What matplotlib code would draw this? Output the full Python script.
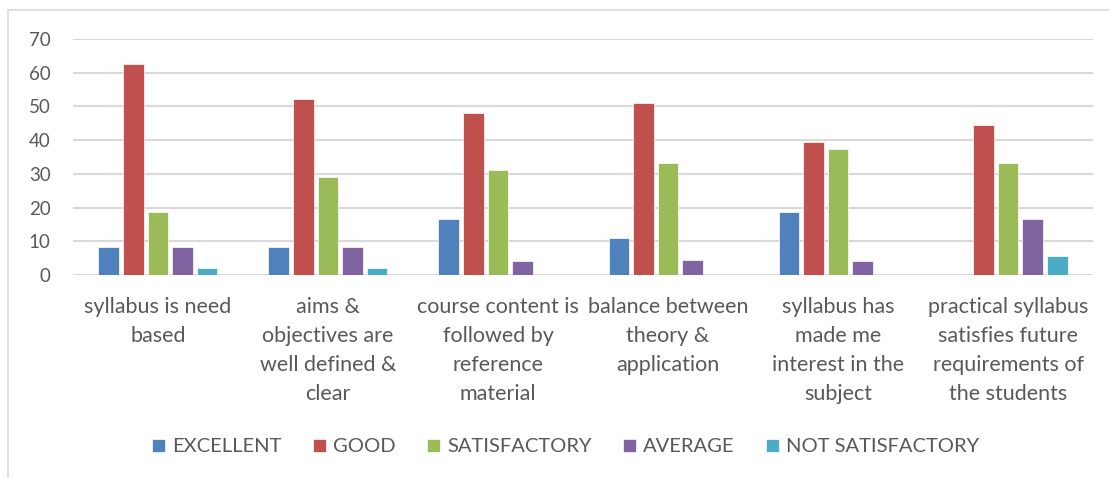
import numpy as np
import matplotlib
matplotlib.use('Agg')
import matplotlib.pyplot as plt
from matplotlib.patches import Rectangle

categories = [
    "syllabus is need\nbased",
    "aims &\nobjectives are\nwell defined &\nclear",
    "course content is\nfollowed by\nreference\nmaterial",
    "balance between\ntheory &\napplication",
    "syllabus has\nmade me\ninterest in the\nsubject",
    "practical syllabus\nsatisfies future\nrequirements of\nthe students",
]
series = ["EXCELLENT", "GOOD", "SATISFACTORY", "AVERAGE", "NOT SATISFACTORY"]
excellent = [8.33, 8.33, 16.67, 11.11, 18.75, 0]
good = [62.5, 52.08, 47.92, 51.11, 39.58, 44.44]
satisfactory = [18.75, 29.17, 31.25, 33.33, 37.5, 33.33]
average = [8.33, 8.33, 4.17, 4.44, 4.17, 16.67]
not_satisfactory = [2.08, 2.08, 0, 0, 0, 5.56]
yticks = [0, 10, 20, 30, 40, 50, 60, 70]

colors = ["#4F81BD", "#C0504D", "#9BBB59", "#8064A2", "#4BACC6"]
values = [excellent, good, satisfactory, average, not_satisfactory]

plt.rcParams['font.family'] = ['Lato', 'DejaVu Sans']
text_color = "#595959"

fig = plt.figure(figsize=(11.09, 4.78), dpi=100)
ax = fig.add_axes([0.0658, 0.4247, 0.9198, 0.4937])

x = np.arange(len(categories))
pitch = 0.145
width = 0.12
for i, (name, vals) in enumerate(zip(series, values)):
    ax.bar(x + (i - 2) * pitch, vals, width, color=colors[i], label=name,
           edgecolor="white", linewidth=0.5, zorder=3)

ax.set_xlim(-0.5, len(categories) - 0.5)
ax.set_ylim(0, 70)
ax.set_yticks(yticks)
ax.yaxis.grid(True, color="#d9d9d9", linewidth=1.5, zorder=0)
for s in ax.spines.values():
    s.set_visible(False)
ax.tick_params(axis="both", length=0, colors=text_color)
ax.tick_params(axis="y", labelsize=13.5, pad=16)
ax.set_xticks(x)
ax.set_xticklabels(categories, fontsize=15.5, linespacing=1.56, color=text_color)
ax.tick_params(axis="x", pad=16)

leg = fig.legend(loc="center", bbox_to_anchor=(0.51, 0.065), ncol=5, frameon=False,
                 handlelength=0.65, handleheight=0.65, handletextpad=0.35,
                 columnspacing=1.55, fontsize=14.5)
for t in leg.get_texts():
    t.set_color(text_color)

# chart area border (only left and top visible in the crop)
fig.add_artist(Rectangle((8 / 1109, -0.1), 1.2, (478 - 10) / 478 + 0.1,
                         transform=fig.transFigure, fill=False,
                         edgecolor="#d9d9d9", linewidth=1.2))

fig.savefig("out.png", dpi=100)
